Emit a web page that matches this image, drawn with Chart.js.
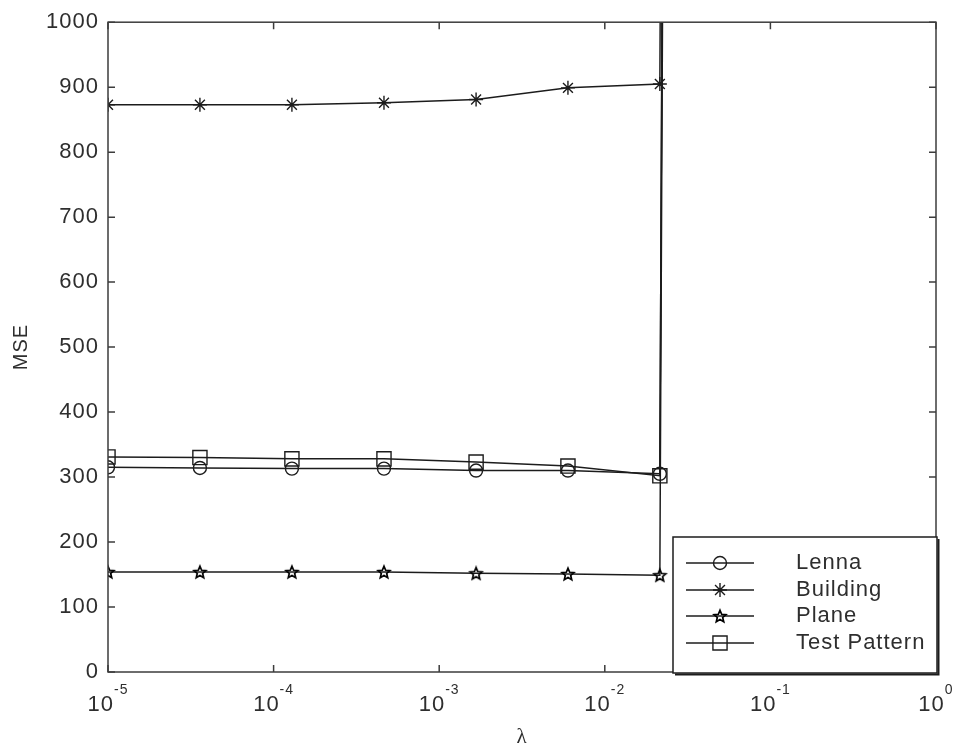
<!DOCTYPE html>
<html>
<head>
<meta charset="utf-8">
<script src="https://cdn.jsdelivr.net/npm/chart.js@4.4.1/dist/chart.umd.min.js"></script>
<style>
  html, body { margin: 0; padding: 0; background: #fff; }
  canvas { display: block; }
</style>
</head>
<body>
<canvas id="mseChart" width="956" height="748"></canvas>
<script>
// lambda sample points (log spaced); last point is where MSE blows up off the chart
const lambdaValues = [1e-5, 3.59e-5, 1.29e-4, 4.64e-4, 1.67e-3, 5.99e-3, 2.15e-2, 7.74e-2];
const lennaMse = [315, 314, 313, 313, 310, 310, 305, 30000];
const buildingMse = [873, 873, 873, 876, 881, 899, 905, 30000];
const planeMse = [154, 154, 154, 154, 152, 151, 149, 30000];
const testPatternMse = [331, 330, 328, 328, 323, 317, 302, 30000];
const seriesNames = ['Lenna', 'Building', 'Plane', 'Test Pattern'];

const xTickValues = [1e-5, 1e-4, 1e-3, 1e-2, 1e-1, 1];
const xTickExponents = ['-5', '-4', '-3', '-2', '-1', '0'];
const yTickValues = [0, 100, 200, 300, 400, 500, 600, 700, 800, 900, 1000];

const INK = '#1c1c1c';
const AXIS = '#3c3c3c';
const TEXT = '#2e2e2e';
const FONT = '"Liberation Sans", Arial, sans-serif';
const SPACING = '1px';

function makePentagram(size, lw) {
  const c = document.createElement('canvas');
  c.width = size;
  c.height = size;
  const g = c.getContext('2d');
  const cx = size / 2, cy = size / 2 + 0.6;
  const R = size / 2 - lw, r = R * 0.45;
  g.beginPath();
  for (let i = 0; i < 10; i++) {
    const ang = -Math.PI / 2 + i * Math.PI / 5;
    const rad = i % 2 ? r : R;
    g.lineTo(cx + rad * Math.cos(ang), cy + rad * Math.sin(ang));
  }
  g.closePath();
  g.strokeStyle = '#000';
  g.lineWidth = lw;
  g.lineJoin = 'miter';
  g.stroke();
  return c;
}
const pentagram = makePentagram(16, 1.7);

const markerStyles = [
  { pointStyle: 'circle', radius: 6.5 },
  { pointStyle: 'star', radius: 7 },
  { pointStyle: pentagram, radius: 7 },
  { pointStyle: 'rect', radius: 10 }
];

function toPoints(values) {
  return lambdaValues.map((x, i) => ({ x, y: values[i] }));
}

const allSeries = [lennaMse, buildingMse, planeMse, testPatternMse];

const datasets = allSeries.map((vals, i) => ({
  label: seriesNames[i],
  data: toPoints(vals),
  borderColor: INK,
  borderWidth: 1.5,
  tension: 0,
  pointStyle: markerStyles[i].pointStyle,
  pointRadius: markerStyles[i].radius,
  pointBorderColor: INK,
  pointBorderWidth: 1.4,
  pointBackgroundColor: 'rgba(0,0,0,0)',
  fill: false
}));

const framePlugin = {
  id: 'framePlugin',
  beforeDraw(chart) {
    // the original figure's lettering is set wide
    chart.ctx.letterSpacing = SPACING;
  },
  afterDatasetsDraw(chart) {
    const { ctx, chartArea: a, scales: { x, y } } = chart;
    ctx.save();
    ctx.strokeStyle = AXIS;
    ctx.lineWidth = 1.5;
    ctx.strokeRect(a.left, a.top, a.right - a.left, a.bottom - a.top);

    const t = 7;
    ctx.beginPath();
    xTickValues.forEach(v => {
      const px = x.getPixelForValue(v);
      ctx.moveTo(px, a.bottom); ctx.lineTo(px, a.bottom - t);
      ctx.moveTo(px, a.top); ctx.lineTo(px, a.top + t);
    });
    yTickValues.forEach(v => {
      const py = y.getPixelForValue(v);
      ctx.moveTo(a.left, py); ctx.lineTo(a.left + t, py);
      ctx.moveTo(a.right, py); ctx.lineTo(a.right - t, py);
    });
    ctx.stroke();

    // x tick labels: 10 with raised exponent
    ctx.fillStyle = TEXT;
    ctx.letterSpacing = SPACING;
    ctx.textBaseline = 'alphabetic';
    ctx.textAlign = 'left';
    xTickValues.forEach((v, i) => {
      const px = x.getPixelForValue(v);
      ctx.font = '22px ' + FONT;
      const baseW = ctx.measureText('10').width;
      ctx.font = '14px ' + FONT;
      const expW = ctx.measureText(xTickExponents[i]).width;
      const start = px - (baseW + expW) / 2;
      ctx.font = '22px ' + FONT;
      ctx.fillText('10', start, a.bottom + 39);
      ctx.font = '14px ' + FONT;
      ctx.fillText(xTickExponents[i], start + baseW, a.bottom + 22);
    });
    ctx.restore();
  },
  afterDraw(chart) {
    const { ctx } = chart;
    const box = { left: 673, top: 537, right: 937, bottom: 673 };
    ctx.save();
    ctx.fillStyle = '#fff';
    ctx.fillRect(box.left, box.top, box.right - box.left, box.bottom - box.top);
    ctx.strokeStyle = INK;
    ctx.lineWidth = 1.5;
    ctx.strokeRect(box.left, box.top, box.right - box.left, box.bottom - box.top);
    // shadow edges
    ctx.lineWidth = 2;
    ctx.beginPath();
    ctx.moveTo(box.right + 1.5, box.top + 2);
    ctx.lineTo(box.right + 1.5, box.bottom + 1.5);
    ctx.lineTo(box.left + 2, box.bottom + 1.5);
    ctx.stroke();

    const rowY = [563, 590, 616, 643];
    const lineL = 686, lineR = 754, markX = 720, textX = 796;
    chart.data.datasets.forEach((ds, i) => {
      const yy = rowY[i];
      ctx.strokeStyle = INK;
      ctx.lineWidth = 1.5;
      ctx.beginPath();
      ctx.moveTo(lineL, yy);
      ctx.lineTo(lineR, yy);
      ctx.stroke();
      ctx.fillStyle = 'rgba(0,0,0,0)';
      ctx.lineWidth = 1.4;
      Chart.helpers.drawPoint(ctx, {
        pointStyle: ds.pointStyle,
        radius: ds.pointRadius,
        rotation: 0,
        borderWidth: 1.4
      }, markX, yy);
      ctx.fillStyle = TEXT;
      ctx.letterSpacing = SPACING;
      ctx.font = '22px ' + FONT;
      ctx.textAlign = 'left';
      ctx.textBaseline = 'middle';
      ctx.fillText(ds.label, textX, yy);
    });
    ctx.restore();
  }
};

new Chart(document.getElementById('mseChart'), {
  type: 'line',
  data: { datasets },
  options: {
    responsive: false,
    animation: false,
    layout: { padding: { left: 0, right: 20, top: 20, bottom: 0 } },
    plugins: {
      legend: { display: false },
      tooltip: { enabled: false }
    },
    scales: {
      x: {
        type: 'logarithmic',
        min: 1e-5,
        max: 1,
        grid: { display: false, drawTicks: false },
        border: { display: false },
        ticks: { display: false },
        title: {
          display: true,
          text: 'λ',
          color: TEXT,
          font: { family: '"Liberation Serif", "DejaVu Serif", serif', size: 21, lineHeight: 1 },
          padding: { top: 0, bottom: 0 }
        },
        afterFit: s => { s.height = 76; }
      },
      y: {
        min: 0,
        max: 1000,
        grid: { display: false, drawTicks: false },
        border: { display: false },
        ticks: {
          stepSize: 100,
          padding: 9,
          color: TEXT,
          font: { family: FONT, size: 22 },
          callback: v => String(v)
        },
        title: {
          display: true,
          text: 'MSE',
          color: TEXT,
          font: { family: FONT, size: 20, lineHeight: 1 },
          padding: { top: 11, bottom: 0 }
        },
        afterFit: s => { s.width = 108; }
      }
    }
  },
  plugins: [framePlugin]
});
</script>
</body>
</html>
